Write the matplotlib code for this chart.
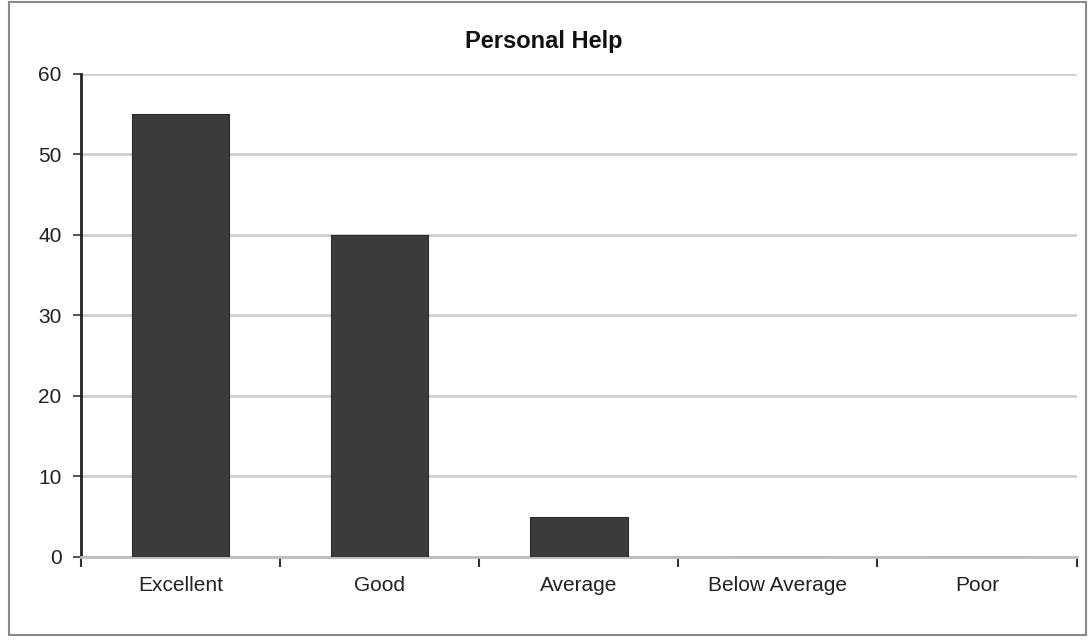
import numpy as np
import matplotlib
matplotlib.use("Agg")
import matplotlib.pyplot as plt
from matplotlib.patches import Rectangle

categories = ["Excellent", "Good", "Average", "Below Average", "Poor"]
values = [55, 40, 5, 0, 0]
yticks = [0, 10, 20, 30, 40, 50, 60]

plt.rcParams["font.family"] = ["Liberation Sans", "DejaVu Sans"]

fig = plt.figure(figsize=(10.88, 6.43), dpi=100)
ax = fig.add_axes([0.0745, 0.134, 0.915, 0.751])

x = np.arange(len(categories))
ax.bar(x, values, width=0.49, color="#3b3b3d", edgecolor="#2a2a2a", linewidth=0.8, zorder=3)

ax.set_xlim(-0.5, len(categories) - 0.5)
ax.set_ylim(0, 60)
ax.set_yticks(yticks)
ax.set_yticklabels([str(v) for v in yticks], fontsize=15, color="#222222")
ax.grid(axis="y", color="#cfcfcf", linewidth=2, zorder=0)

# category labels centred, ticks on category boundaries
ax.set_xticks(x)
ax.set_xticklabels(categories, fontsize=15, color="#222222")
ax.tick_params(axis="x", length=0, pad=14)
ax.set_xticks(np.arange(len(categories) + 1) - 0.5, minor=True)
ax.tick_params(axis="x", which="minor", length=7, width=1.5, color="#333333")
ax.tick_params(axis="y", length=6, width=1.2, color="#333333", pad=8)

ax.spines["top"].set_visible(False)
ax.spines["right"].set_visible(False)
ax.spines["left"].set_color("#222222")
ax.spines["left"].set_linewidth(2)
ax.spines["bottom"].set_color("#bdbdbd")
ax.spines["bottom"].set_linewidth(2)

fig.text(0.5, 0.935, "Personal Help", ha="center", va="center",
         fontsize=17, fontweight="bold", color="#111111")

# outer chart frame
fig.patches.append(Rectangle((0.008, 0.012), 0.99, 0.985, transform=fig.transFigure,
                             fill=False, edgecolor="#8a8a8a", linewidth=1.5))

fig.savefig("out.png", dpi=100)
